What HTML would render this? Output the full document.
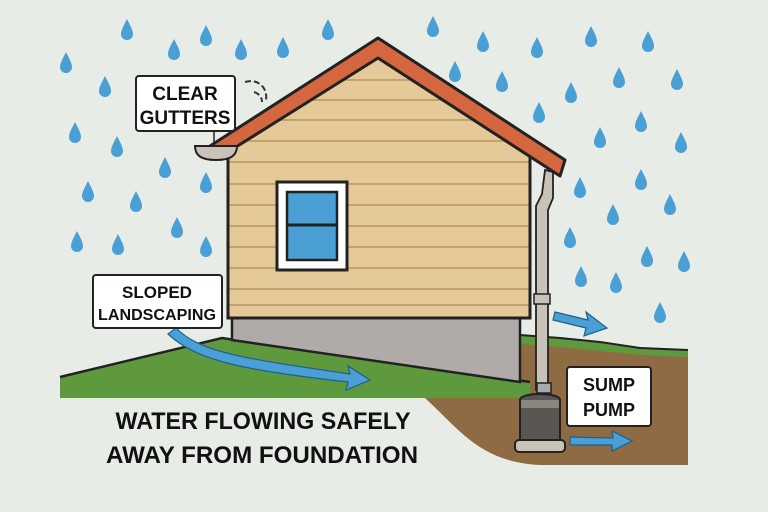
<!DOCTYPE html>
<html><head><meta charset="utf-8"><style>
html,body{margin:0;padding:0;background:#e8ece6;}
svg{display:block}
text{font-family:"Liberation Sans",sans-serif;font-weight:bold;fill:#111;}
</style></head><body>
<svg width="768" height="512" viewBox="0 0 768 512" xmlns="http://www.w3.org/2000/svg">
<defs>
<path id="d" d="M0,-11 C3,-5 6,0 6,4 A6,6 0 0 1 -6,4 C-6,0 -3,-5 0,-11Z" fill="#4a9fd4"/>
<clipPath id="wc"><path d="M228,152 L378,58 L530,157 L530,318 L228,318Z"/></clipPath>
</defs>
<rect width="768" height="512" fill="#e8ece6"/>
<g>
<use href="#d" x="127" y="30"/><use href="#d" x="174" y="50"/><use href="#d" x="206" y="36"/><use href="#d" x="241" y="50"/><use href="#d" x="283" y="48"/><use href="#d" x="328" y="30"/><use href="#d" x="433" y="27"/><use href="#d" x="483" y="42"/><use href="#d" x="537" y="48"/><use href="#d" x="591" y="37"/><use href="#d" x="648" y="42"/><use href="#d" x="66" y="63"/><use href="#d" x="105" y="87"/><use href="#d" x="75" y="133"/><use href="#d" x="117" y="147"/><use href="#d" x="165" y="168"/><use href="#d" x="206" y="183"/><use href="#d" x="88" y="192"/><use href="#d" x="136" y="202"/><use href="#d" x="177" y="228"/><use href="#d" x="77" y="242"/><use href="#d" x="118" y="245"/><use href="#d" x="206" y="247"/><use href="#d" x="455" y="72"/><use href="#d" x="502" y="82"/><use href="#d" x="539" y="113"/><use href="#d" x="571" y="93"/><use href="#d" x="619" y="78"/><use href="#d" x="677" y="80"/><use href="#d" x="600" y="138"/><use href="#d" x="641" y="122"/><use href="#d" x="681" y="143"/><use href="#d" x="580" y="188"/><use href="#d" x="641" y="180"/><use href="#d" x="670" y="205"/><use href="#d" x="613" y="215"/><use href="#d" x="570" y="238"/><use href="#d" x="647" y="257"/><use href="#d" x="684" y="262"/><use href="#d" x="581" y="277"/><use href="#d" x="616" y="283"/><use href="#d" x="660" y="313"/>
</g>
<!-- soil -->
<path d="M425,398 C460,430 480,462 540,465 L688,465 L688,350 L520,340 L520,398Z" fill="#8e6b42"/>
<path d="M520,335 L560,338 L600,342 L640,348 L688,350 L688,357 L640,355 L560,347 L520,344Z" fill="#5e9a3d"/>
<path d="M520,335 L560,338 L600,342 L640,348 L688,350" fill="none" stroke="#222" stroke-width="2"/>
<!-- grass front -->
<path d="M60,377 L222,338 L530,382 L530,398 L60,398Z" fill="#5e9a3d"/>
<path d="M60,377 L222,338 L530,382" fill="none" stroke="#222" stroke-width="2.5"/>
<!-- foundation -->
<path d="M232,316 L520,316 L520,382 L232,340Z" fill="#b0aaa8" stroke="#222" stroke-width="2.5"/>
<!-- wall -->
<path d="M228,152 L378,58 L530,157 L530,318 L228,318Z" fill="#e6c999"/>
<g stroke="#b8955f" stroke-width="1.5" clip-path="url(#wc)">
<line x1="228" y1="80" x2="530" y2="80"/><line x1="228" y1="100" x2="530" y2="100"/><line x1="228" y1="120" x2="530" y2="120"/><line x1="228" y1="141" x2="530" y2="141"/><line x1="228" y1="162" x2="530" y2="162"/><line x1="228" y1="184" x2="530" y2="184"/><line x1="228" y1="205" x2="530" y2="205"/><line x1="228" y1="226" x2="530" y2="226"/><line x1="228" y1="247" x2="530" y2="247"/><line x1="228" y1="268" x2="530" y2="268"/><line x1="228" y1="289" x2="530" y2="289"/><line x1="228" y1="305" x2="530" y2="305"/>
</g>
<path d="M228,152 L228,318 L530,318 L530,157" fill="none" stroke="#222" stroke-width="3"/>
<!-- roof -->
<path d="M210,146 L378,38 L565,160 L560,176 L378,58 L228,152Z" fill="#d4673f" stroke="#222" stroke-width="3" stroke-linejoin="round"/>
<!-- window -->
<rect x="277" y="182" width="70" height="88" fill="#fff" stroke="#222" stroke-width="3"/>
<rect x="287" y="192" width="50" height="68" fill="#4a9fd4" stroke="#222" stroke-width="2.5"/>
<line x1="287" y1="225" x2="337" y2="225" stroke="#222" stroke-width="3"/>
<!-- gutter -->
<path d="M195,146 L237,146 C237,156 230,160 216,160 C202,160 195,156 195,146Z" fill="#c8c2b8" stroke="#222" stroke-width="2"/>
<line x1="214" y1="132" x2="214" y2="145" stroke="#222" stroke-width="1.5"/>
<path d="M245,82 C258,78 268,88 266,100 M254,92 C260,94 262,98 262,102" fill="none" stroke="#333" stroke-width="2" stroke-dasharray="6 3"/>
<!-- downspout -->
<path d="M545,170 L553,172 L553,198 L548,210 L548,390 L536,390 L536,206 L542,194Z" fill="#c8c2b8" stroke="#222" stroke-width="1.8"/>
<rect x="534" y="294" width="16" height="10" fill="#c8c2b8" stroke="#222" stroke-width="1.5"/>
<!-- pump -->
<rect x="537" y="383" width="14" height="10" fill="#aaa" stroke="#222" stroke-width="1.5"/>
<path d="M520,400 C520,392 560,392 560,400 L560,440 L520,440Z" fill="#5a5752" stroke="#222" stroke-width="2"/>
<rect x="521" y="400" width="38" height="8" fill="#8a867f"/>
<rect x="515" y="440" width="50" height="12" rx="4" fill="#c8c2b8" stroke="#222" stroke-width="2"/>
<!-- arrows -->
<g fill="#4a9fd4" stroke="#1f5f8f" stroke-width="1.2">
<path d="M176,328 C200,352 240,358 350,374 L348,366 L370,380 L346,390 L348,382 C240,370 196,360 168,334Z"/>
<path d="M555,312 L588,320 L586,312 L607,328 L584,336 L586,328 L553,320Z"/>
<path d="M570,437 L613,438 L612,431 L632,441 L612,451 L612,445 L570,445Z"/>
</g>
<!-- labels -->
<rect x="136" y="76" width="99" height="55" rx="3" fill="#fff" stroke="#222" stroke-width="2"/>
<text x="185" y="100" font-size="19" text-anchor="middle">CLEAR</text>
<text x="185" y="124" font-size="19" text-anchor="middle">GUTTERS</text>
<rect x="93" y="275" width="129" height="53" rx="3" fill="#fff" stroke="#222" stroke-width="2"/>
<text x="157" y="298" font-size="17" text-anchor="middle">SLOPED</text>
<text x="157" y="320" font-size="16" text-anchor="middle" textLength="118" lengthAdjust="spacingAndGlyphs">LANDSCAPING</text>
<rect x="567" y="367" width="84" height="59" rx="3" fill="#fff" stroke="#222" stroke-width="2"/>
<text x="609" y="391" font-size="18" text-anchor="middle">SUMP</text>
<text x="609" y="416" font-size="18" text-anchor="middle">PUMP</text>
<text x="263" y="429" font-size="24" text-anchor="middle" textLength="295" lengthAdjust="spacingAndGlyphs">WATER FLOWING SAFELY</text>
<text x="262" y="463" font-size="24" text-anchor="middle" textLength="312" lengthAdjust="spacingAndGlyphs">AWAY FROM FOUNDATION</text>
</svg>
</body></html>
